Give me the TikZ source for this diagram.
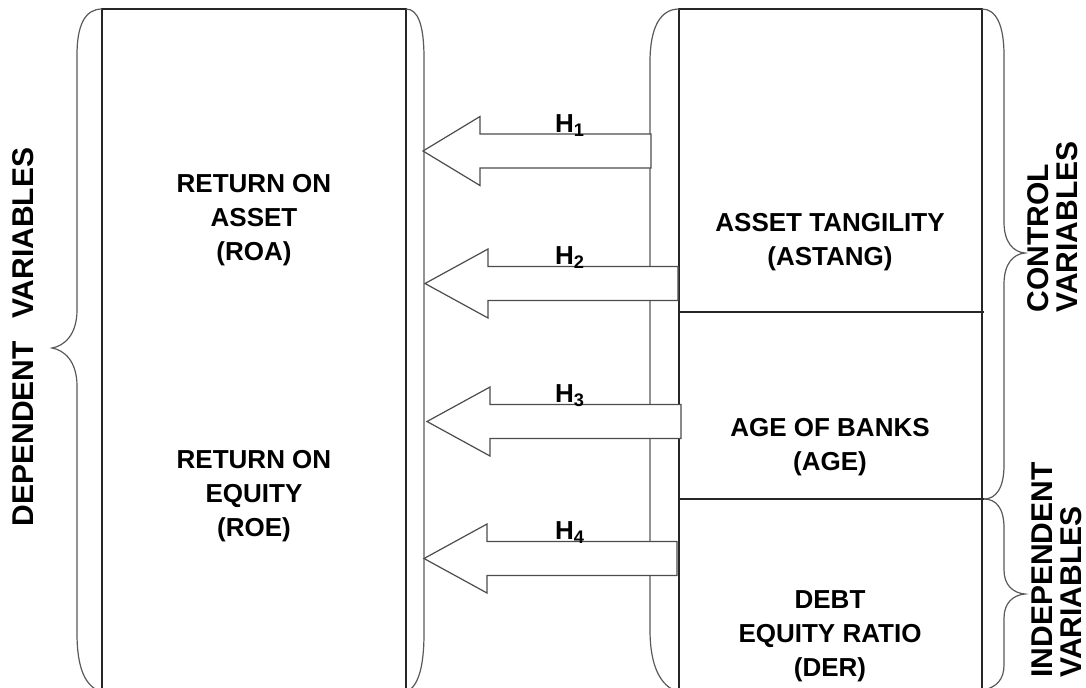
\documentclass[tikz,border=0pt]{standalone}
\usepackage{fontspec}
\setmainfont{Liberation Sans}
\usetikzlibrary{positioning}

\tikzset{
  boxline/.style={draw=black!85, line width=0.7pt},
  curveline/.style={draw=black!65, line width=0.6pt},
  harrow/.style={draw=black!70, fill=white, line width=0.6pt, line join=miter},
  vartext/.style={font=\fontsize{13}{17}\selectfont\bfseries, align=center},
  sidetext/.style={font=\fontsize{15}{14.5}\selectfont\bfseries, rotate=90, inner sep=0pt},
  hlabel/.style={font=\fontsize{13}{15}\selectfont\bfseries, anchor=base, inner sep=0pt}
}

\begin{document}
\begin{tikzpicture}[x=0.5pt, y=-0.5pt]
      \useasboundingbox (0,0) rectangle (1086,687);
      \clip (0,0) rectangle (1086,687);
      % dependent side
      \draw[boxline] (102,700) -- (102,9) -- (406,9) -- (406,700);
      \draw[curveline] (102,9) .. controls (85,9) and (77,25) .. (77,55)
        -- (77,310) .. controls (77,335) and (64,346) .. (52,348)
        .. controls (64,350) and (77,361) .. (77,386)
        -- (77,633) .. controls (77,668) and (85,687) .. (102,692);
      \draw[curveline] (406,9) .. controls (418,9) and (424,25) .. (424,58)
        -- (424,633) .. controls (424,668) and (418,687) .. (406,692);
      % independent and control side
      \draw[boxline] (679,700) -- (679,9) -- (982,9) -- (982,700);
      \draw[boxline] (679,312) -- (984,312);
      \draw[boxline] (679,499) -- (984,499);
      \draw[curveline] (679,9) .. controls (660,9) and (650,28) .. (650,62)
        -- (650,630) .. controls (650,665) and (660,687) .. (679,692);
      \draw[curveline] (982,9) .. controls (996,9) and (1004,25) .. (1004,55)
        -- (1004,222) .. controls (1004,242) and (1013,252) .. (1025,253)
        .. controls (1013,254) and (1004,264) .. (1004,284)
        -- (1004,465) .. controls (1004,488) and (996,499) .. (984,499);
      \draw[curveline] (984,499) .. controls (996,499) and (1004,508) .. (1004,528)
        -- (1004,570) .. controls (1004,585) and (1013,593) .. (1025,594)
        .. controls (1013,595) and (1004,603) .. (1004,618)
        -- (1004,665) .. controls (1004,680) and (996,687) .. (984,690);
      % hypotheses
      \foreach \tip/\yc/\back/\rear/\n in {423/151/480/651/1, 425/283.5/488/678/2,
          427/421.5/490/681/3, 424/558.5/487/677/4} {
        \draw[harrow] (\tip,\yc) -- (\back,\yc-34.5) -- (\back,\yc-17) -- (\rear,\yc-17)
          -- (\rear,\yc+17) -- (\back,\yc+17) -- (\back,\yc+34.5) -- cycle;
        \node[hlabel] (h\n) at (570,\yc-19) {H\textsubscript{\n}};
      }
      % texts
      \node[vartext] (roa) at (254,220) {RETURN ON\\ASSET\\(ROA)};
      \node[vartext] (roe) at (254,496) {RETURN ON\\EQUITY\\(ROE)};
      \node[vartext] (astang) at (830,242) {ASSET TANGILITY\\(ASTANG)};
      \node[vartext] (age) at (830,447) {AGE OF BANKS\\(AGE)};
      \node[vartext] (der) at (830,636) {DEBT\\EQUITY RATIO\\(DER)};
      \node[sidetext] (depv) at (23,337) {DEPENDENT\hspace{7pt} VARIABLES};
      \node[sidetext, anchor=west, align=left] (ctrlv) at (1053,313) {CONTROL\\VARIABLES};
      \node[sidetext, anchor=west, align=left] (indv) at (1057,678) {INDEPENDENT\\VARIABLES};
\end{tikzpicture}
\end{document}
